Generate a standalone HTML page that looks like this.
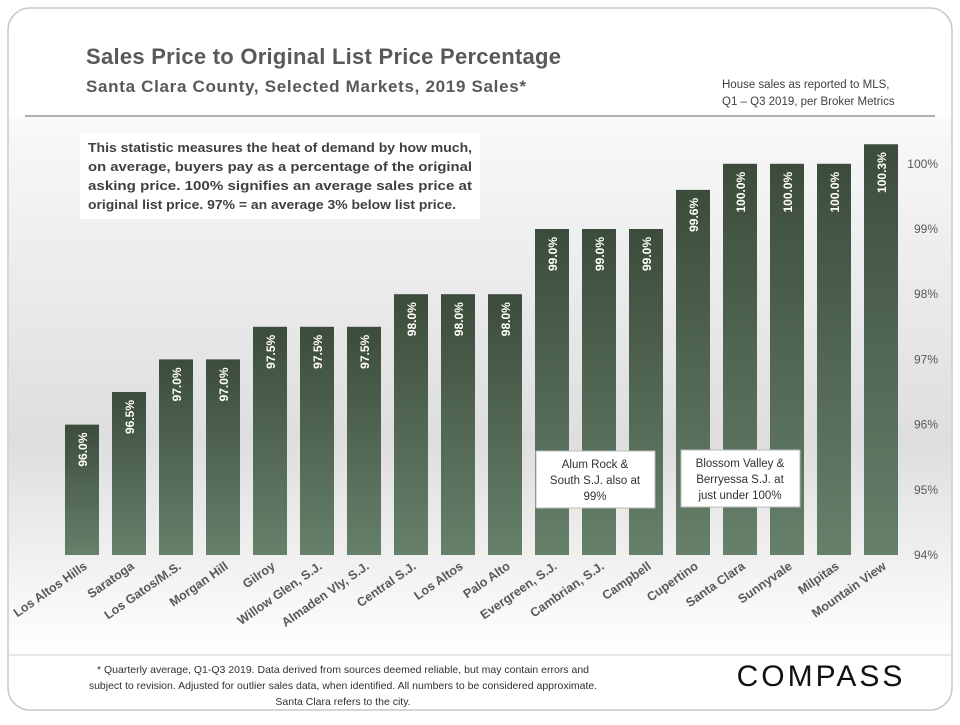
<!DOCTYPE html>
<html><head><meta charset="utf-8"><style>
body{margin:0;width:960px;height:720px;background:#fff;font-family:"Liberation Sans",sans-serif;overflow:hidden}
</style></head><body>
<svg width="960" height="720" viewBox="0 0 960 720" xmlns="http://www.w3.org/2000/svg">
<defs>
<linearGradient id="bg" x1="0" y1="0" x2="0" y2="1">
<stop offset="0" stop-color="#f9f9f9"/><stop offset="0.6" stop-color="#dedede"/><stop offset="1" stop-color="#ffffff"/></linearGradient>
<linearGradient id="bar" x1="0" y1="0" x2="0" y2="1">
<stop offset="0" stop-color="#3c4c3c"/><stop offset="1" stop-color="#66806a"/></linearGradient>
</defs>
<rect x="8" y="8" width="944" height="702" rx="22" fill="#fff" stroke="#c8c8c8" stroke-width="1.5"/>
<rect x="9" y="117" width="942" height="538" fill="url(#bg)"/>
<line x1="25" y1="116" x2="935" y2="116" stroke="#b0b0b0" stroke-width="2"/>
<line x1="9" y1="655" x2="951" y2="655" stroke="#d0d0d0" stroke-width="1"/>
<text x="86" y="64" font-size="22" font-weight="bold" fill="#595959" textLength="475" lengthAdjust="spacing">Sales Price to Original List Price Percentage</text>
<text x="86" y="92" font-size="17" font-weight="bold" fill="#595959" textLength="440" lengthAdjust="spacing">Santa Clara County, Selected Markets,  2019 Sales*</text>
<text x="722" y="88" font-size="11.5" fill="#404040">House sales as reported to MLS,</text>
<text x="722" y="105" font-size="11.5" fill="#404040">Q1 – Q3 2019, per Broker Metrics</text>
<rect x="80" y="133" width="400" height="86" fill="#fff"/>
<g font-size="13" font-weight="bold" fill="#404040">
<text x="88" y="152" textLength="384" lengthAdjust="spacingAndGlyphs">This statistic measures the heat of demand by how much,</text>
<text x="88" y="171" textLength="384" lengthAdjust="spacingAndGlyphs">on average, buyers pay as a percentage of the original</text>
<text x="88" y="190" textLength="384" lengthAdjust="spacingAndGlyphs">asking price. 100% signifies an average sales price at</text>
<text x="88" y="209" textLength="368" lengthAdjust="spacingAndGlyphs">original list price. 97% = an average 3% below list price.</text>
</g>
<g id="ticks"></g>
<g id="bars"></g>
<g id="labels"></g>
<rect x="536" y="451" width="119" height="57" fill="#fff" stroke="#bbb"/>
<g font-size="11.5" fill="#303030" text-anchor="middle">
<text x="595" y="468">Alum Rock &amp;</text><text x="595" y="484">South S.J. also at</text><text x="595" y="500">99%</text></g>
<rect x="681" y="450" width="119" height="57" fill="#fff" stroke="#bbb"/>
<g font-size="11.5" fill="#303030" text-anchor="middle">
<text x="740" y="467">Blossom Valley &amp;</text><text x="740" y="483">Berryessa S.J. at</text><text x="740" y="499">just under 100%</text></g>
<g font-size="10.5" fill="#303030" text-anchor="middle">
<text x="343" y="673">* Quarterly average, Q1-Q3 2019. Data derived from sources deemed reliable, but may contain errors and</text>
<text x="343" y="689">subject to revision. Adjusted for outlier sales data, when identified. All numbers to be considered approximate.</text>
<text x="343" y="705">Santa Clara refers to the city.</text></g>
<text x="821" y="686" font-size="30" fill="#111" text-anchor="middle" letter-spacing="3">COMPASS</text>
</svg>
<script>
const categories=["Los Altos Hills","Saratoga","Los Gatos/M.S.","Morgan Hill","Gilroy","Willow Glen, S.J.","Almaden Vly, S.J.","Central S.J.","Los Altos","Palo Alto","Evergreen, S.J.","Cambrian, S.J.","Campbell","Cupertino","Santa Clara","Sunnyvale","Milpitas","Mountain View"];
const values=[96.0,96.5,97.0,97.0,97.5,97.5,97.5,98.0,98.0,98.0,99.0,99.0,99.0,99.6,100.0,100.0,100.0,100.3];
const tickValues=[94,95,96,97,98,99,100];
const tickLabels=["94%","95%","96%","97%","98%","99%","100%"];
const NS="http://www.w3.org/2000/svg";
const y=v=>555-(v-94)*65.2;
const x=i=>65+i*47;
const bw=34;
const tg=document.getElementById('ticks'),bg=document.getElementById('bars'),lg=document.getElementById('labels');
tickValues.forEach((t,i)=>{
 const e=document.createElementNS(NS,'text');
 e.setAttribute('x',938);e.setAttribute('y',y(t)+4);e.setAttribute('font-size','12');e.setAttribute('fill','#595959');e.setAttribute('text-anchor','end');
 e.textContent=tickLabels[i];
 
 
 tg.appendChild(e);
});
values.forEach((v,i)=>{
 const r=document.createElementNS(NS,'rect');
 r.setAttribute('x',x(i));r.setAttribute('y',y(v));r.setAttribute('width',bw);r.setAttribute('height',555-y(v));r.setAttribute('fill','url(#bar)');
 
 
 bg.appendChild(r);
 const cx=x(i)+bw/2+5, ty=y(v)+8;
 const t=document.createElementNS(NS,'text');
 t.setAttribute('transform',`translate(${cx},${ty}) rotate(-90)`);t.setAttribute('text-anchor','end');
 t.setAttribute('font-size','12');t.setAttribute('font-weight','bold');t.setAttribute('fill','#fff');
 t.textContent=v.toFixed(1)+'%';
 
 
 bg.appendChild(t);
 const l=document.createElementNS(NS,'text');
 l.setAttribute('transform',`translate(${x(i)+bw/2+6},${568}) rotate(-35)`);l.setAttribute('text-anchor','end');
 l.setAttribute('font-size','12.5');l.setAttribute('font-weight','bold');l.setAttribute('fill','#595959');
 l.textContent=categories[i];
 
 
 lg.appendChild(l);
});
</script>
</body></html>
